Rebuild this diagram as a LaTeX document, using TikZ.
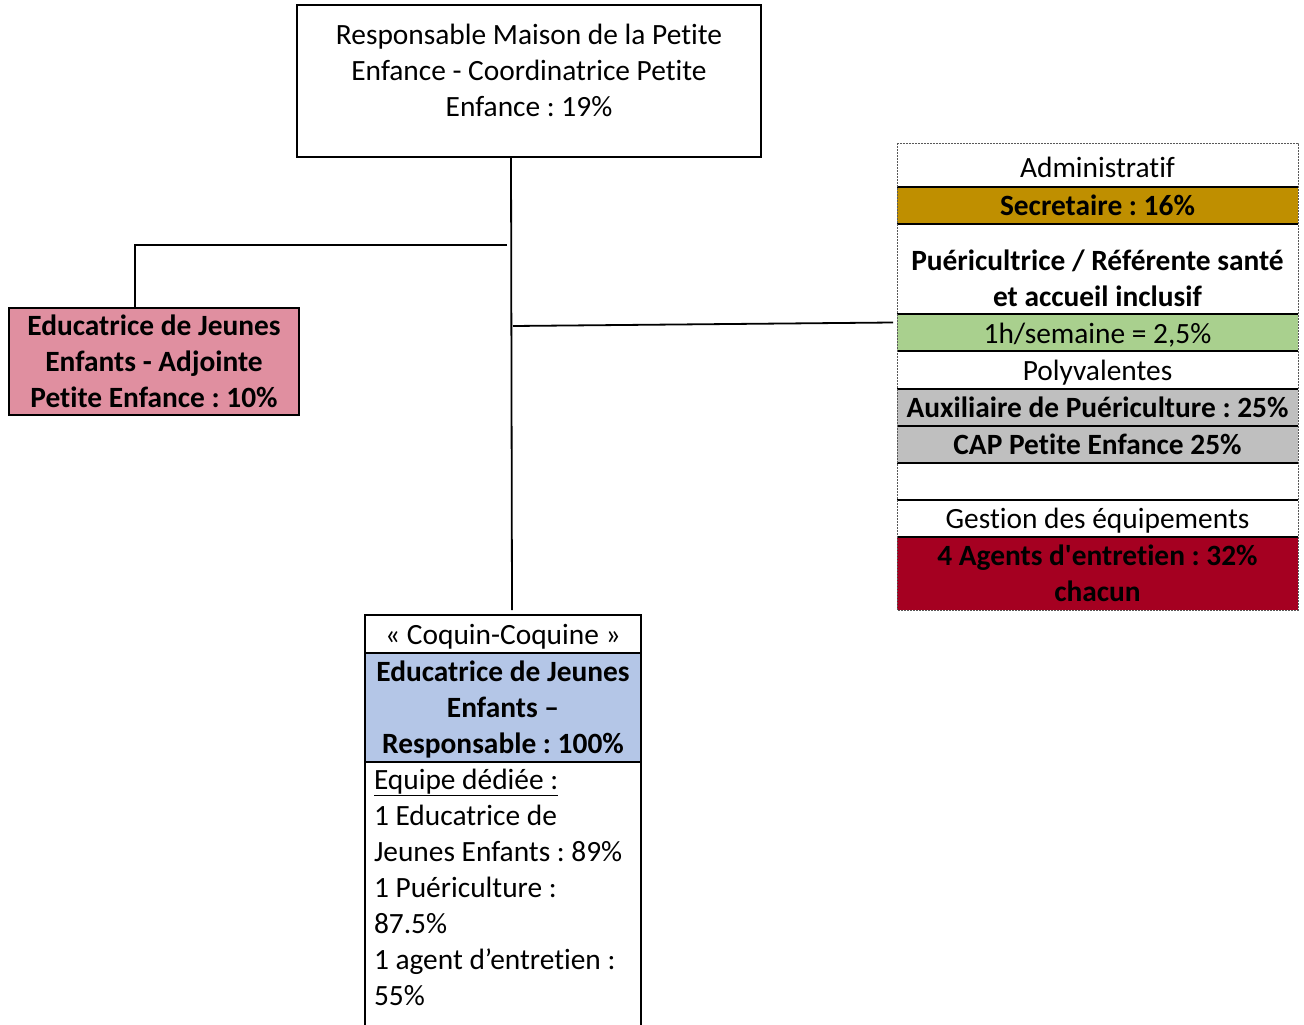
\documentclass[tikz,border=0pt]{standalone}
\usepackage{fontspec}
\setmainfont{Carlito}[Ligatures={TeXOff,NoCommon}]
\usetikzlibrary{positioning}
\frenchspacing

\definecolor{rose}{RGB}{224,143,160}
\definecolor{or}{RGB}{191,143,0}
\definecolor{vert}{RGB}{169,208,142}
\definecolor{gris}{RGB}{191,191,191}
\definecolor{bordeaux}{RGB}{165,0,33}
\definecolor{bleu}{RGB}{180,198,231}
\newcommand\hautligne{26pt}

\begin{document}
\begin{tikzpicture}[x=1pt,y=-1pt,
  every node/.style={font=\fontsize{29.4}{36}\selectfont, inner sep=0pt, outer sep=0pt,
    execute at begin node={\rule{0pt}{\hautligne}}, execute at end node={\rule[-6pt]{0pt}{0pt}}},
  haut/.code={\renewcommand\hautligne{#1}},
  gras/.style={font=\fontsize{29.4}{36}\selectfont\bfseries},
  cadre/.style={draw, line width=1.6pt},
  ligne/.style={minimum width=401pt, text width=395pt, align=flush center},
  lien/.style={line width=1.8pt},
  trait/.style={line width=2pt}]
  \useasboundingbox[fill=white] (0,0) rectangle (1304,1025);

  % direction
  \node[cadre, minimum width=464pt, minimum height=152pt, anchor=north west] (chef) at (297,5) {};
  \node[below=14pt of chef.north, text width=440pt, align=flush center] (chefT) {Responsable Maison de la Petite\\Enfance - Coordinatrice Petite\\Enfance : 19\%};

  % adjointe
  \node[cadre, fill=rose, minimum width=290pt, minimum height=107pt, text width=284pt, align=flush center, anchor=north west, gras] (adjointe) at (9,308) {Educatrice de Jeunes\\Enfants - Adjointe\\Petite Enfance : 10\%};

  % services transverses
  \node[ligne, haut=30pt, minimum height=44pt, anchor=north west] (admin) at (897,143) {Administratif};
  \node[ligne, fill=or, minimum height=37pt, below=0pt of admin, gras] (secr) {Secretaire : 16\%};
  \node[ligne, haut=45pt, minimum height=90pt, below=0pt of secr, gras] (puer) {Puéricultrice / Référente santé\\et accueil inclusif};
  \node[ligne, haut=28pt, fill=vert, minimum height=37pt, below=0pt of puer] (heure) {1h/semaine = 2,5\%};
  \node[ligne, minimum height=38pt, below=0pt of heure] (poly) {Polyvalentes};
  \node[ligne, fill=gris, minimum height=37pt, below=0pt of poly, gras] (aux) {Auxiliaire de Puériculture : 25\%};
  \node[ligne, fill=gris, minimum height=37pt, below=0pt of aux, gras] (cap) {CAP Petite Enfance 25\%};
  \node[ligne, minimum height=37pt, below=0pt of cap] (vide) {};
  \node[ligne, minimum height=37pt, below=0pt of vide] (gest) {Gestion des équipements};
  \node[ligne, fill=bordeaux, minimum height=73pt, below=0pt of gest, gras] (agents) {4 Agents d'entretien : 32\%\\chacun};
  \foreach \r in {secr,puer,heure,poly,aux,cap,vide,gest,agents}
    \draw[trait] (\r.north west) -- (\r.north east);
  \draw[line width=1pt, black!65, dash pattern=on 2pt off 1pt] (admin.north west) rectangle (agents.south east);

  % structure Coquin-Coquine
  \node[cadre, fill=white, minimum width=276pt, minimum height=38pt, anchor=north west] (coquin) at (365,615) {« Coquin-Coquine »};
  \node[cadre, fill=bleu, minimum width=276pt, minimum height=109pt, text width=270pt, align=flush center, below=0pt of coquin, gras] (resp) {Educatrice de Jeunes\\Enfants –\\Responsable : 100\%};
  \node[anchor=north west, align=left, inner xsep=9pt, inner ysep=7pt] (equipe) at (resp.south west) {\underline{Equipe dédiée :}\\1 Educatrice de\\Jeunes Enfants : 89\%\\1 Puériculture :\\87.5\%\\1 agent d’entretien :\\55\%};
  \coordinate (bas) at (0,1025);
  \draw[trait] (resp.south west) -- (resp.south west |- bas);
  \draw[trait] (resp.south east) -- (resp.south east |- bas);

  % liaisons
  \coordinate (tronc) at ([xshift=-18pt]chef.south);
  \coordinate (pied) at ([xshift=9pt,yshift=5pt]coquin.north);
  \coordinate (brG) at (507,245);
  \coordinate (brD) at (513,326);
  \draw[lien] (tronc) -- (pied);
  \draw[lien] (brG) -| ([xshift=-19pt]adjointe.north);
  \draw[lien] (brD) -- ([shift={(-4pt,10pt)}]heure.west);
\end{tikzpicture}
\end{document}
